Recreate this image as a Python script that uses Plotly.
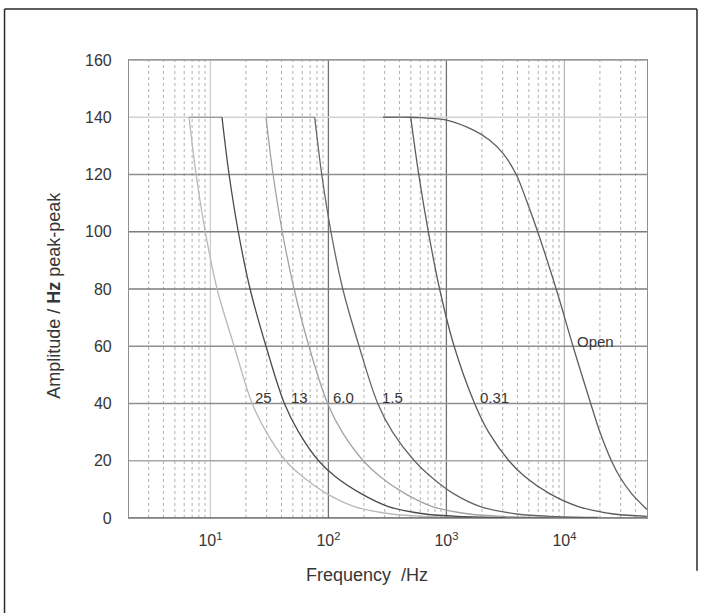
import math
import plotly.graph_objects as go

# ---------------- data ----------------
amp_levels = [140, 120, 100, 80, 60, 40, 30, 20, 14.4, 8.6, 4.0, 1.4, 0.5, 0.2]

freq_25 = [6.59, 7.57, 9.05, 11.40, 15.9, 22.6, 29.8, 43.5, 60.5, 96.0, 166, 340, 740, 1650]
amp_25 = amp_levels

freq_13 = [12.54, 14.40, 17.23, 21.69, 29.6, 42.4, 56.0, 82.5, 115, 187.6, 322.3, 659, 1407, 3150]
amp_13 = amp_levels

freq_6 = [29.6, 33.98, 40.67, 51.21, 68.4, 98.5, 131, 197.5, 275, 442.8, 760.7, 1555, 3321, 7436]
amp_6 = amp_levels

freq_15 = [76.52, 87.85, 105.1, 132.4, 182, 262, 350, 535, 740, 1140, 1940, 3950, 8586, 19222]
amp_15 = amp_levels

freq_031 = [498.4, 583, 703, 876, 1163, 1734, 2277, 3385, 4640, 7420, 13140, 26200, 50000]
amp_031 = [140, 120, 100, 80, 60, 40, 30, 20, 14.4, 8.6, 4.0, 1.4, 0.6]

freq_open = [290, 498.4, 630, 800, 1005, 1680, 2328, 3018, 3904, 4764, 5938, 8521, 11830,
             16710, 19920, 25020, 29420, 36970, 50000]
amp_open = [140, 140, 139.8, 139.5, 139.0, 135.6, 132, 127.4, 120, 111, 100, 80, 60,
            40, 30.2, 20, 14.4, 8.6, 3.0]

# flat 140 Hz cap segments (start, end)
flat_13 = [6.59, 12.54]
flat_15 = [29.6, 76.52]

curve_labels = ["25", "13", "6.0", "1.5", "0.31", "Open"]
label_freq = [22.9, 46.4, 104.8, 272, 1854, 12220]
label_amp = [42, 42, 42, 42, 42, 61.6]

y_ticks = [0, 20, 40, 60, 80, 100, 120, 140, 160]
x_ticks = [10, 100, 1000, 10000]
x_tick_text = ["10<sup>1</sup>", "10<sup>2</sup>", "10<sup>3</sup>", "10<sup>4</sup>"]
minor_x = [3, 4, 5, 6, 7, 8, 9,
           20, 30, 40, 50, 60, 70, 80, 90,
           200, 300, 400, 500, 600, 700, 800, 900,
           2000, 3000, 4000, 5000, 6000, 7000, 8000, 9000,
           20000, 30000, 40000]

# ---------------- styling ----------------
X_RANGE_LOG = [0.3102, 4.7]
X_MIN, X_MAX = 10 ** X_RANGE_LOG[0], 10 ** X_RANGE_LOG[1]
FONT = "Liberation Sans, Arial, Helvetica, sans-serif"
TXT = "#363636"

decade_colors = {10: "#cdcdcd", 100: "#727272", 1000: "#727272", 10000: "#b8b8b8"}
hgrid_colors = {20: "#a8a8a8", 40: "#8e8e8e", 60: "#8e8e8e", 80: "#7c7c7c",
                100: "#7c7c7c", 120: "#8e8e8e", 140: "#d2d2d2", 160: "#9a9a9a"}

fig = go.Figure()

# minor dotted vertical grid
mx, my = [], []
for v in minor_x:
    mx += [v, v, None]
    my += [0, 160, None]
fig.add_trace(go.Scatter(x=mx, y=my, mode="lines",
                         line=dict(color="#b0b0b0", width=1, dash="dot"),
                         hoverinfo="skip", showlegend=False))

# decade vertical grid
for v in x_ticks:
    fig.add_trace(go.Scatter(x=[v, v], y=[0, 160], mode="lines",
                             line=dict(color=decade_colors[v], width=1.3),
                             hoverinfo="skip", showlegend=False))

# horizontal grid
for v in y_ticks[1:]:
    fig.add_trace(go.Scatter(x=[X_MIN, X_MAX], y=[v, v], mode="lines",
                             line=dict(color=hgrid_colors[v], width=1.3),
                             hoverinfo="skip", showlegend=False))

# flat caps
for seg in (flat_13, flat_15):
    fig.add_trace(go.Scatter(x=seg, y=[140, 140], mode="lines",
                             line=dict(color="#8a8a8a", width=1.2),
                             hoverinfo="skip", showlegend=False))

# curves
curves = [
    (freq_25, amp_25, "#b8b8b8"),
    (freq_13, amp_13, "#4a4a4a"),
    (freq_6, amp_6, "#a2a2a2"),
    (freq_15, amp_15, "#666666"),
    (freq_031, amp_031, "#5a5a5a"),
    (freq_open, amp_open, "#5e5e5e"),
]
for fx, fy, col in curves:
    fig.add_trace(go.Scatter(x=fx, y=fy, mode="lines",
                             line=dict(color=col, width=1.3, shape="spline", smoothing=1.0),
                             hoverinfo="skip", showlegend=False))

# bottom axis line (darker)
fig.add_trace(go.Scatter(x=[X_MIN, X_MAX], y=[0, 0], mode="lines",
                         line=dict(color="#5a5a5a", width=1.6),
                         hoverinfo="skip", showlegend=False))

annotations = []
for t, fx, fy in zip(curve_labels, label_freq, label_amp):
    annotations.append(dict(x=math.log10(fx), y=fy, xref="x", yref="y", text=t,
                            showarrow=False, xanchor="left", yanchor="middle",
                            font=dict(family=FONT, size=15, color=TXT)))

annotations.append(dict(x=-0.145, y=0.487, xref="paper", yref="paper",
                        text="Amplitude / <b>Hz</b> peak-peak", textangle=-90,
                        showarrow=False, xanchor="center", yanchor="middle",
                        font=dict(family=FONT, size=18, color=TXT)))
annotations.append(dict(x=0.4595, y=-0.1245, xref="paper", yref="paper",
                        text="Frequency\u00a0 /Hz",
                        showarrow=False, xanchor="center", yanchor="middle",
                        font=dict(family=FONT, size=18, color=TXT)))

# outer frame of the figure
frame = dict(type="line", xref="paper", yref="paper", line=dict(color="#2a2a2a", width=1.5))
shapes = [
    dict(frame, x0=-0.2403, x1=1.0965, y0=1.1114, y1=1.1114),
    dict(frame, x0=-0.2403, x1=-0.2403, y0=1.1114, y1=-0.21),
    dict(frame, x0=1.0965, x1=1.0965, y0=1.1114, y1=-0.115),
]

fig.update_layout(
    width=702, height=613,
    margin=dict(l=129, r=55, t=60, b=95),
    paper_bgcolor="white", plot_bgcolor="white",
    font=dict(family=FONT, color=TXT),
    annotations=annotations,
    shapes=shapes,
    showlegend=False,
)
fig.update_xaxes(type="log", range=X_RANGE_LOG, showgrid=False, zeroline=False,
                 tickvals=x_ticks, ticktext=x_tick_text, ticks="",
                 tickfont=dict(family=FONT, size=16, color=TXT),
                 ticklabelstandoff=8,
                 showline=True, mirror=True, linecolor="#9a9a9a", linewidth=1.2)
fig.update_yaxes(range=[0, 160], showgrid=False, zeroline=False,
                 tickvals=y_ticks, ticks="",
                 tickfont=dict(family=FONT, size=16, color=TXT),
                 ticklabelstandoff=13,
                 showline=True, mirror=True, linecolor="#8e8e8e", linewidth=1.2)

fig.write_html("out.html", config={"displayModeBar": False},
               post_script="document.body.style.margin='0px';document.body.style.overflow='hidden';")
